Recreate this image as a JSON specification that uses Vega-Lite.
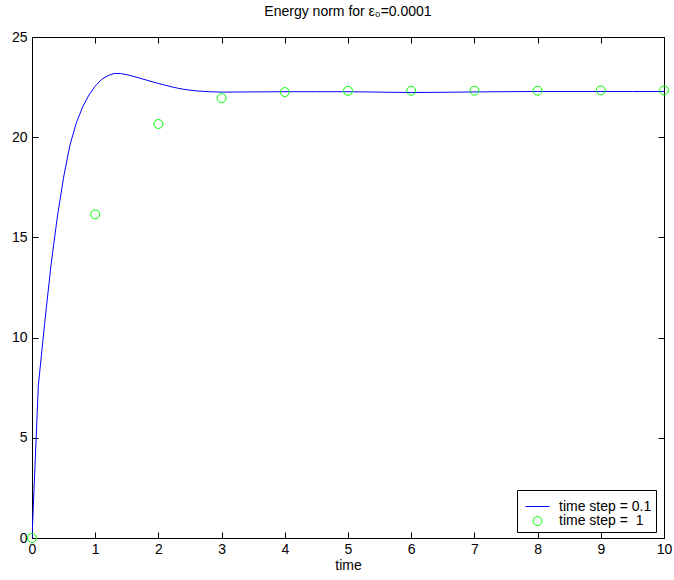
{
  "$schema": "https://vega.github.io/schema/vega-lite/v6.json",
  "width": 632,
  "height": 501,
  "autosize": {"type": "none"},
  "padding": {"left": 32, "top": 37, "right": 10, "bottom": 42},
  "background": "white",
  "config": {
    "font": "Liberation Sans",
    "view": {"stroke": "black", "strokeWidth": 1},
    "axis": {"grid": false, "labelFont": "Liberation Sans", "labelFontSize": 14, "labelColor": "black", "titleFont": "Liberation Sans", "titleFontSize": 14, "titleFontWeight": "normal", "titleColor": "black", "domainColor": "black", "tickColor": "black", "labelFlush": false, "labelOverlap": false},
    "legend": {"title": null, "orient": "none", "legendX": 485, "legendY": 453, "fillColor": "white", "strokeColor": "black", "padding": 4, "rowPadding": 0, "labelFontSize": 14, "labelFont": "Liberation Sans", "labelColor": "black", "symbolStrokeWidth": 1, "symbolOffset": 4, "labelOffset": 9, "cornerRadius": 0, "symbolOpacity": 1}
  },
  "title": {"text": "Energy norm for ε₀=0.0001", "fontSize": 14, "fontWeight": "normal", "font": "Liberation Sans", "color": "black", "offset": 11, "anchor": "middle"},
  "data": {"values": [
    {"t": 0, "v": 0, "s": "time step = 0.1"},
    {"t": 0.1, "v": 7.6, "s": "time step = 0.1"},
    {"t": 0.2, "v": 10.7, "s": "time step = 0.1"},
    {"t": 0.3, "v": 13.6, "s": "time step = 0.1"},
    {"t": 0.4, "v": 16.0, "s": "time step = 0.1"},
    {"t": 0.5, "v": 18.0, "s": "time step = 0.1"},
    {"t": 0.6, "v": 19.6, "s": "time step = 0.1"},
    {"t": 0.7, "v": 20.7, "s": "time step = 0.1"},
    {"t": 0.8, "v": 21.5, "s": "time step = 0.1"},
    {"t": 0.9, "v": 22.1, "s": "time step = 0.1"},
    {"t": 1.0, "v": 22.55, "s": "time step = 0.1"},
    {"t": 1.1, "v": 22.88, "s": "time step = 0.1"},
    {"t": 1.2, "v": 23.07, "s": "time step = 0.1"},
    {"t": 1.3, "v": 23.18, "s": "time step = 0.1"},
    {"t": 1.4, "v": 23.18, "s": "time step = 0.1"},
    {"t": 1.5, "v": 23.12, "s": "time step = 0.1"},
    {"t": 1.6, "v": 23.04, "s": "time step = 0.1"},
    {"t": 1.7, "v": 22.95, "s": "time step = 0.1"},
    {"t": 1.8, "v": 22.86, "s": "time step = 0.1"},
    {"t": 1.9, "v": 22.77, "s": "time step = 0.1"},
    {"t": 2.0, "v": 22.68, "s": "time step = 0.1"},
    {"t": 2.1, "v": 22.6, "s": "time step = 0.1"},
    {"t": 2.2, "v": 22.52, "s": "time step = 0.1"},
    {"t": 2.3, "v": 22.45, "s": "time step = 0.1"},
    {"t": 2.4, "v": 22.39, "s": "time step = 0.1"},
    {"t": 2.5, "v": 22.35, "s": "time step = 0.1"},
    {"t": 2.6, "v": 22.31, "s": "time step = 0.1"},
    {"t": 2.7, "v": 22.29, "s": "time step = 0.1"},
    {"t": 2.8, "v": 22.27, "s": "time step = 0.1"},
    {"t": 2.9, "v": 22.26, "s": "time step = 0.1"},
    {"t": 3.0, "v": 22.25, "s": "time step = 0.1"},
    {"t": 3.5, "v": 22.26, "s": "time step = 0.1"},
    {"t": 4.0, "v": 22.27, "s": "time step = 0.1"},
    {"t": 4.5, "v": 22.27, "s": "time step = 0.1"},
    {"t": 5.0, "v": 22.27, "s": "time step = 0.1"},
    {"t": 5.5, "v": 22.25, "s": "time step = 0.1"},
    {"t": 6.0, "v": 22.23, "s": "time step = 0.1"},
    {"t": 6.5, "v": 22.24, "s": "time step = 0.1"},
    {"t": 7.0, "v": 22.26, "s": "time step = 0.1"},
    {"t": 7.5, "v": 22.27, "s": "time step = 0.1"},
    {"t": 8.0, "v": 22.28, "s": "time step = 0.1"},
    {"t": 8.5, "v": 22.28, "s": "time step = 0.1"},
    {"t": 9.0, "v": 22.28, "s": "time step = 0.1"},
    {"t": 9.5, "v": 22.28, "s": "time step = 0.1"},
    {"t": 10.0, "v": 22.28, "s": "time step = 0.1"},
    {"t": 0, "v": 0, "s": "time step = \u00a01"},
    {"t": 1, "v": 16.15, "s": "time step = \u00a01"},
    {"t": 2, "v": 20.66, "s": "time step = \u00a01"},
    {"t": 3, "v": 21.95, "s": "time step = \u00a01"},
    {"t": 4, "v": 22.25, "s": "time step = \u00a01"},
    {"t": 5, "v": 22.32, "s": "time step = \u00a01"},
    {"t": 6, "v": 22.32, "s": "time step = \u00a01"},
    {"t": 7, "v": 22.32, "s": "time step = \u00a01"},
    {"t": 8, "v": 22.32, "s": "time step = \u00a01"},
    {"t": 9, "v": 22.34, "s": "time step = \u00a01"},
    {"t": 10, "v": 22.34, "s": "time step = \u00a01"}
  ]},
  "layer": [
    {
      "transform": [{"filter": "datum.s == 'time step = 0.1'"}],
      "mark": {"type": "line", "strokeWidth": 1, "clip": true},
      "encoding": {
        "x": {"field": "t", "type": "quantitative", "scale": {"domain": [0, 10], "nice": false, "zero": false}, "axis": {"title": "time", "values": [0,1,2,3,4,5,6,7,8,9,10], "tickSize": -6, "labelPadding": 10, "titlePadding": 2}},
        "y": {"field": "v", "type": "quantitative", "scale": {"domain": [0, 25], "nice": false}, "axis": {"title": null, "values": [0,5,10,15,20,25], "tickSize": -6, "labelPadding": 11}},
        "color": {"field": "s", "type": "nominal", "scale": {"domain": ["time step = 0.1", "time step = \u00a01"], "range": ["#0000ff", "#00ff00"]}}
      }
    },
    {
      "transform": [{"filter": "datum.s != 'time step = 0.1'"}],
      "mark": {"type": "point", "filled": false, "strokeWidth": 1, "opacity": 1, "clip": false},
      "encoding": {
        "x": {"field": "t", "type": "quantitative", "axis": {"orient": "top", "title": null, "labels": false, "values": [0,1,2,3,4,5,6,7,8,9,10], "tickSize": -6}},
        "y": {"field": "v", "type": "quantitative", "axis": {"orient": "right", "title": null, "labels": false, "values": [0,5,10,15,20,25], "tickSize": -6}},
        "color": {"field": "s", "type": "nominal", "scale": {"domain": ["time step = 0.1", "time step = \u00a01"], "range": ["#0000ff", "#00ff00"]}},
        "shape": {"field": "s", "type": "nominal", "scale": {"domain": ["time step = 0.1", "time step = \u00a01"], "range": ["stroke", "circle"]}},
        "size": {"field": "s", "type": "nominal", "scale": {"domain": ["time step = 0.1", "time step = \u00a01"], "range": [576, 80]}}
      }
    }
  ],
  "resolve": {"axis": {"x": "independent", "y": "independent"}}
}
